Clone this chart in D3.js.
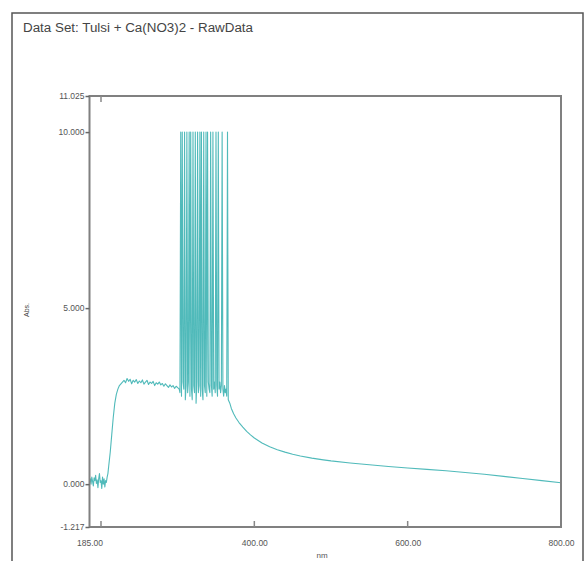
<!DOCTYPE html>
<html><head><meta charset="utf-8">
<script src="https://cdn.jsdelivr.net/npm/d3@7"></script>
<style>
html,body{margin:0;padding:0;background:#fff;}
svg{display:block;}
</style></head>
<body>
<script>
const titleText = "Data Set:  Tulsi + Ca(NO3)2 - RawData";
const xLabel = "nm";
const yLabel = "Abs.";
const yTickValues = [-1.217, 0, 5, 10, 11.025];
const yTickLabels = ["-1.217", "0.000", "5.000", "10.000", "11.025"];
const xTickValues = [185, 400, 600, 800];
const xTickLabels = ["185.00", "400.00", "600.00", "800.00"];
const xMinorTicks = [200, 400, 600];

const wavelength = [
185,186,187,188,189,190,191,192,193,194,195,196,197,198,199,200,201,202,203,204,205,206,207,208,209,
210,212,214,216,218,220,222,224,226,228,
230,232,234,236,238,240,242,244,246,248,250,252,254,256,258,260,262,264,266,268,270,272,274,276,278,280,282,284,286,288,290,292,294,296,298,300,302,
303,304,305,306,307,308,309,310,311,312,313,314,315,316,317,318,319,320,321,322,323,324,325,326,327,328,329,330,331,332,333,334,335,336,337,338,339,340,341,342,343,344,345,346,347,348,349,350,351,352,353,354,355,356,357,358,359,360,361,362,363,364,365,366,
368,370,373,376,380,385,390,395,400,410,420,430,440,450,460,475,490,500,525,550,575,600,625,650,675,700,725,750,775,800
];
const absorbance = [
0.05,0.15,0.0,0.2,0.08,-0.05,0.18,0.1,0.25,0.02,0.12,-0.1,0.15,0.3,0.05,0.1,-0.12,0.2,0.0,0.15,-0.08,0.1,0.05,0.2,0.3,
0.5,0.9,1.4,1.9,2.3,2.55,2.7,2.8,2.85,2.9,
2.95,2.88,3.0,2.92,2.98,2.85,2.95,2.9,2.97,2.86,2.93,2.88,2.96,2.84,2.9,2.95,2.83,2.9,2.86,2.92,2.8,2.88,2.84,2.9,2.82,2.86,2.78,2.85,2.8,2.75,2.82,2.76,2.8,2.72,2.78,2.74,2.7,
2.6,10,2.5,10,2.9,2.7,10,2.4,2.8,10,2.6,2.9,10,2.5,10,2.7,2.4,10,2.8,2.6,10,2.3,2.9,10,2.6,2.8,10,2.5,10,2.7,2.4,10,2.8,2.6,10,2.5,10,2.9,2.7,2.6,10,2.8,2.5,10,2.7,2.9,2.6,10,2.8,2.5,10,2.7,2.9,2.6,2.8,10,2.7,2.5,2.8,2.6,2.7,2.5,10,2.4,
2.3,2.15,2.0,1.88,1.75,1.62,1.5,1.4,1.31,1.17,1.06,0.98,0.91,0.85,0.8,0.74,0.69,0.66,0.6,0.55,0.5,0.46,0.42,0.38,0.33,0.28,0.22,0.16,0.1,0.04
];

const W = 584, H = 561;
const svg = d3.select("body").append("svg").attr("width", W).attr("height", H);
const font = "'Liberation Sans Narrow','Liberation Sans',Arial,sans-serif";

// outer frame
svg.append("path").attr("d", `M12,${H} L12,13 L583,13 L583,${H}`)
  .attr("fill", "none").attr("stroke", "#555").attr("stroke-width", 1.5);

svg.append("text").attr("x", 23).attr("y", 32).text(titleText)
  .attr("font-family", font).attr("font-size", 12).attr("fill", "#444")
  .attr("textLength", 230).attr("lengthAdjust", "spacingAndGlyphs");

const x = d3.scaleLinear().domain([185, 800]).range([89.5, 561]);
const y = d3.scaleLinear().domain([-1.217, 11.025]).range([527, 96]);

// data line
const pts = wavelength.map((w, i) => [w, absorbance[i]]);
const line = d3.line().x(d => x(d[0])).y(d => y(d[1]));
svg.append("path").datum(pts).attr("d", line)
  .attr("fill", "none").attr("stroke", "#3db3b3").attr("stroke-width", 1.1)
  .attr("stroke-linejoin", "round").attr("stroke-opacity", 0.9);

// plot frame
svg.append("rect").attr("x", x(185)).attr("y", y(11.025))
  .attr("width", x(800) - x(185)).attr("height", y(-1.217) - y(11.025))
  .attr("fill", "none").attr("stroke", "#808080").attr("stroke-width", 2);

// y axis
const yAxis = d3.axisLeft(y).tickValues(yTickValues)
  .tickFormat((d, i) => yTickLabels[i]).tickSize(4).tickPadding(1);
const gy = svg.append("g").attr("transform", `translate(${x(185)},0)`).call(yAxis);
gy.select(".domain").remove();
gy.selectAll("line").attr("stroke", "#666").attr("stroke-width", 1.5);
gy.selectAll("text").attr("font-family", font).attr("font-size", 8.5).attr("fill", "#555");

// x axis labels
const xAxis = d3.axisBottom(x).tickValues(xTickValues)
  .tickFormat((d, i) => xTickLabels[i]).tickSize(0).tickPadding(13);
const gx = svg.append("g").attr("transform", `translate(0,${y(-1.217)})`).call(xAxis);
gx.select(".domain").remove();
gx.selectAll("text").attr("font-family", font).attr("font-size", 8.5).attr("fill", "#555");

// inward minor ticks
svg.append("g").selectAll("line.bt").data(xMinorTicks).join("line")
  .attr("x1", d => x(d)).attr("x2", d => x(d))
  .attr("y1", y(-1.217)).attr("y2", y(-1.217) - 6)
  .attr("stroke", "#888").attr("stroke-width", 1.5);
svg.append("line").attr("x1", x(200)).attr("x2", x(200))
  .attr("y1", y(11.025)).attr("y2", y(11.025) + 6)
  .attr("stroke", "#888").attr("stroke-width", 1.5);

svg.append("text").attr("x", 322).attr("y", 558).attr("text-anchor", "middle")
  .text(xLabel).attr("font-family", font).attr("font-size", 8).attr("fill", "#555");
svg.append("text").attr("transform", "translate(29,310) rotate(-90)")
  .attr("text-anchor", "middle").text(yLabel)
  .attr("font-family", font).attr("font-size", 7).attr("fill", "#444");
</script>
</body></html>
